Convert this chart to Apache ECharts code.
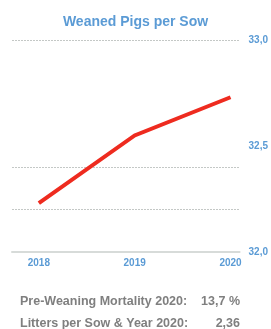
<!DOCTYPE html>
<html><head><meta charset="utf-8">
<script src="https://cdn.jsdelivr.net/npm/echarts@6/dist/echarts.min.js"></script>
<style>html,body{margin:0;padding:0;background:#fff}#c{width:271px;height:329px}</style>
</head><body><div id="c"></div>
<script>
var years = [2018, 2019, 2020];
var weanedPigs = [32.23, 32.55, 32.73];
var yTicks = [32.0, 32.5, 33.0];
var gridValues = [33.0, 32.4, 32.2];
var title = 'Weaned Pigs per Sow';
var infoLabels = ['Pre-Weaning Mortality 2020:', 'Litters per Sow & Year 2020:'];
var infoValues = ['13,7 %', '2,36'];

var blue = '#5b9bd5';
var grey = '#7f7f7f';
var chart = echarts.init(document.getElementById('c'), null, {renderer: 'canvas'});
chart.setOption({
  animation: false,
  title: {text: title, left: 'center', top: 10, textStyle: {color: blue, fontFamily: 'Liberation Sans', fontWeight: 'bold', fontSize: 14}},
  grid: {left: 12, right: 31, top: 40, bottom: 77, containLabel: false},
  xAxis: {
    type: 'value', min: 2017.72, max: 2020.094,
    axisLine: {show: true, onZero: false, lineStyle: {color: '#d7dbd9', width: 2}},
    axisTick: {show: false},
    splitLine: {show: false},
    axisLabel: {customValues: years, color: blue, fontFamily: 'Liberation Sans', fontWeight: 'bold', fontSize: 10, margin: 6,
      formatter: function (v) { return String(Math.round(v)); }}
  },
  yAxis: {
    type: 'value', position: 'right', min: yTicks[0], max: yTicks[yTicks.length - 1], interval: 0.5,
    axisLine: {show: false}, axisTick: {show: false}, splitLine: {show: false},
    axisLabel: {color: blue, fontFamily: 'Liberation Sans', fontWeight: 'bold', fontSize: 10, margin: 9,
      formatter: function (v) { return v.toFixed(1).replace('.', ','); }}
  },
  series: [{
    type: 'line',
    data: years.map(function (y, i) { return [y, weanedPigs[i]]; }),
    symbol: 'none',
    lineStyle: {color: '#ee2b1f', width: 4, cap: 'butt', join: 'miter'},
    markLine: {
      silent: true, symbol: 'none', label: {show: false},
      lineStyle: {type: [2, 1], color: '#c4c8c6', width: 1},
      data: gridValues.map(function (v) { return {yAxis: v}; }),
      z: 1
    },
    z: 3
  }],
  graphic: [
    {type: 'text', left: 20, top: 295, style: {text: infoLabels[0], fill: grey, font: 'bold 12.5px "Liberation Sans"'}},
    {type: 'text', left: 20, top: 317, style: {text: infoLabels[1], fill: grey, font: 'bold 12.5px "Liberation Sans"'}},
    {type: 'text', right: 31, top: 295, style: {text: infoValues[0], fill: grey, font: 'bold 12.5px "Liberation Sans"'}},
    {type: 'text', right: 31, top: 317, style: {text: infoValues[1], fill: grey, font: 'bold 12.5px "Liberation Sans"'}}
  ]
});
</script></body></html>
